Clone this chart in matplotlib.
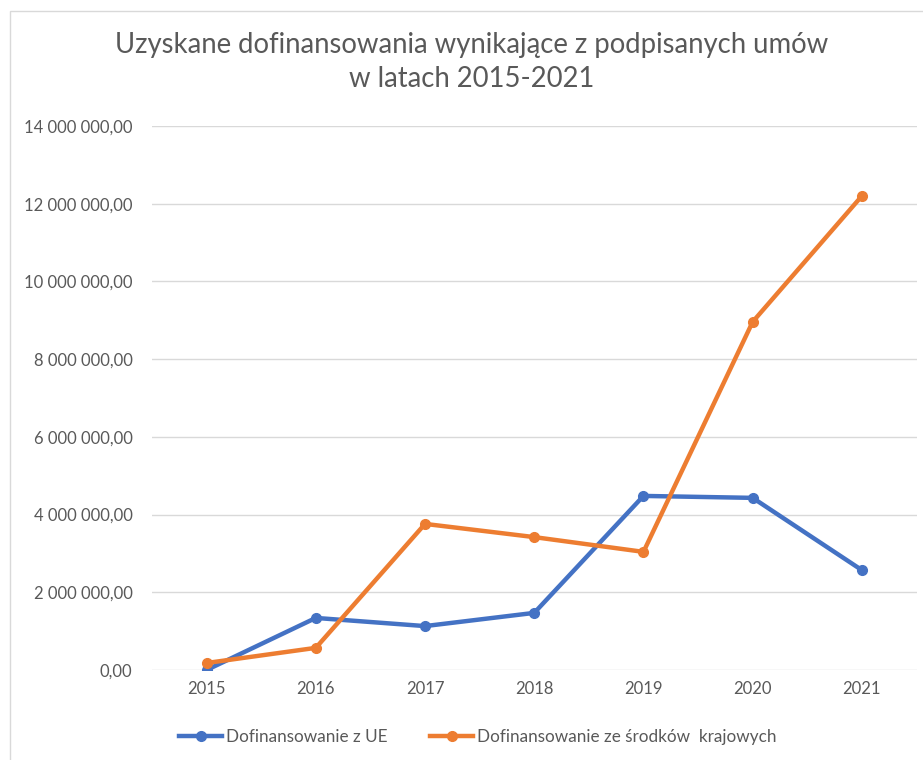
import matplotlib
matplotlib.use("Agg")
import matplotlib.pyplot as plt
from matplotlib.ticker import FuncFormatter, MultipleLocator
from matplotlib.patches import Rectangle

# data
years = ["2015", "2016", "2017", "2018", "2019", "2020", "2021"]
ue = [0.0, 1.34e6, 1.13e6, 1.47e6, 4.48e6, 4.43e6, 2.57e6]
krajowe = [0.18e6, 0.57e6, 3.76e6, 3.42e6, 3.04e6, 8.96e6, 12.2e6]

title = "Uzyskane dofinansowania wynikające z podpisanych umów\nw latach 2015-2021"
label_ue = "Dofinansowanie z UE"
label_kraj = "Dofinansowanie ze środków  krajowych"

plt.rcParams['font.family'] = ['Lato', 'DejaVu Sans']
text_gray = "#595959"

fig = plt.figure(figsize=(9.23, 7.6), dpi=100)
ax = fig.add_axes([152 / 923, 1 - 670 / 760, (916.5 - 152) / 923, (670 - 126) / 760])

# chart area border (Excel style)
fig.patches.append(Rectangle((10 / 923, -0.05), 1.2, 1 - 11 / 760 + 0.05,
                             transform=fig.transFigure, fill=False,
                             edgecolor="#D9D9D9", linewidth=1))

x = range(len(years))
ax.plot(x, ue, color="#4472C4", linewidth=3.2, marker="o", markersize=7,
        label=label_ue, solid_joinstyle="round", zorder=3)
ax.plot(x, krajowe, color="#ED7D31", linewidth=3.2, marker="o", markersize=7,
        label=label_kraj, solid_joinstyle="round", zorder=3)

ax.set_xlim(-0.5, len(years) - 0.5)
ax.set_ylim(0, 14e6)
ax.yaxis.set_major_locator(MultipleLocator(2e6))


def pl_fmt(v, pos):
    s = f"{v:,.2f}".replace(",", " ").replace(".", ",")
    return s


ax.yaxis.set_major_formatter(FuncFormatter(pl_fmt))
ax.set_xticks(list(x))
ax.set_xticklabels(years)
ax.grid(axis="y", color="#D9D9D9", linewidth=1)
ax.set_axisbelow(True)
for side in ["top", "right", "left", "bottom"]:
    ax.spines[side].set_visible(False)
ax.tick_params(axis="both", length=0, labelsize=12, colors=text_gray)
ax.tick_params(axis="y", pad=14)
ax.tick_params(axis="x", pad=8)

fig.text(472 / 923, 1 - 62 / 760, title, ha="center", va="center",
         fontsize=19.8, color=text_gray, linespacing=1.4)

fig.legend(loc="center", bbox_to_anchor=(478 / 923, 1 - 737 / 760), ncol=2,
           frameon=False, fontsize=12.3, labelcolor=text_gray,
           handlelength=2.5, handletextpad=0.25, columnspacing=2.5)

fig.savefig("out.png", dpi=100, facecolor="white")
